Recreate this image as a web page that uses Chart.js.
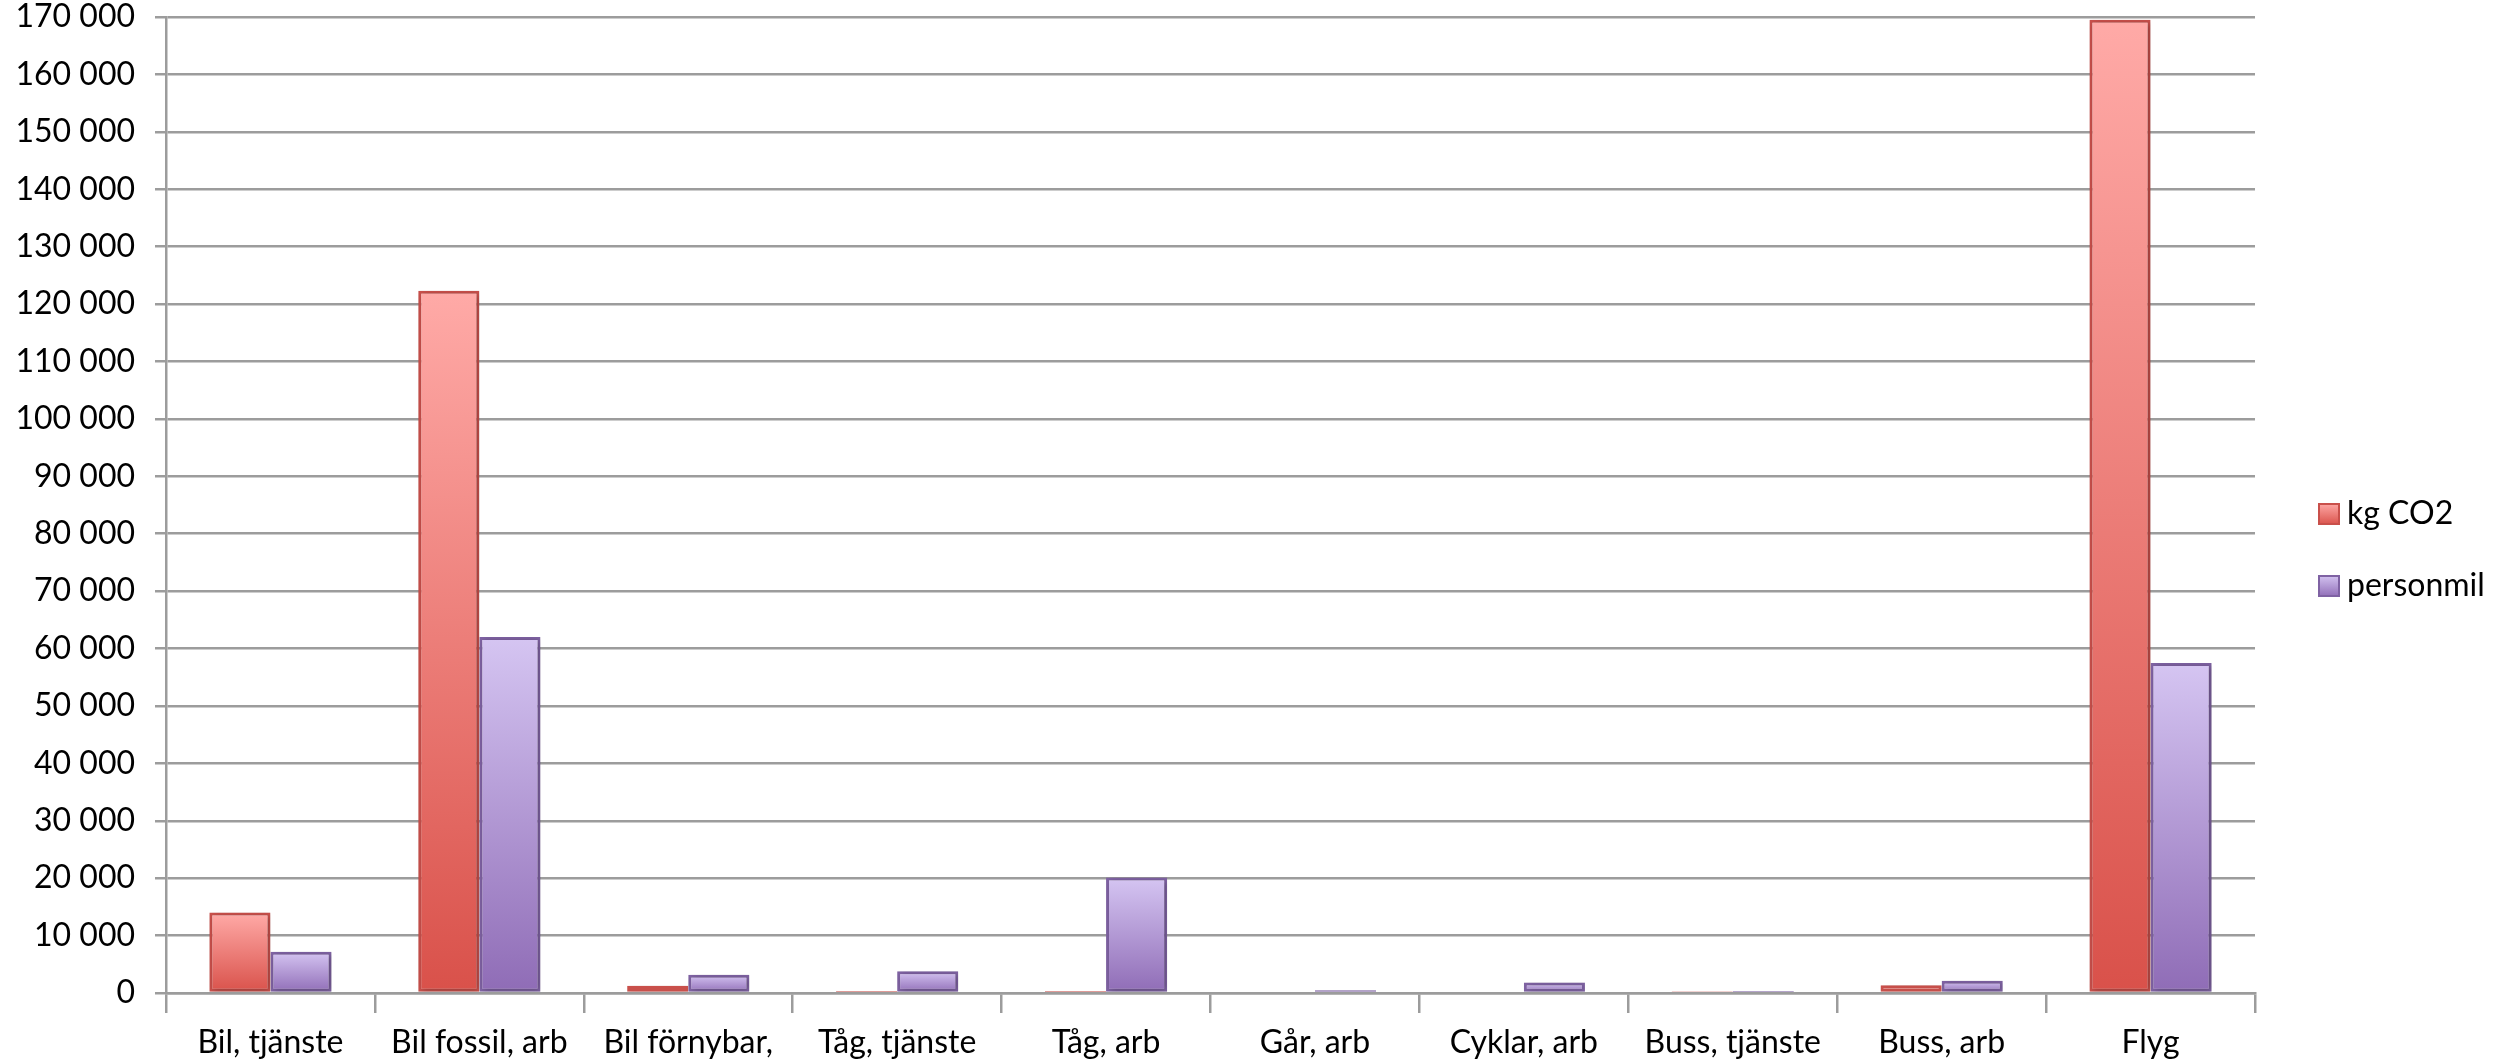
<!DOCTYPE html>
<html lang="sv">
<head>
<meta charset="utf-8">
<title>kg CO2 och personmil per färdsätt</title>
<script src="https://cdn.jsdelivr.net/npm/chart.js@4/dist/chart.umd.min.js"></script>
<style>
	html, body { margin: 0; padding: 0; background: #fff; }
	.co2-chart { position: relative; width: 2504px; height: 1063px; }
</style>
</head>
<body>
<div class="co2-chart"><canvas id="co2-canvas"></canvas></div>
<script>
var categories = ['Bil, tjänste', 'Bil fossil, arb', 'Bil förnybar,', 'Tåg, tjänste', 'Tåg, arb', 'Går, arb', 'Cyklar, arb', 'Buss, tjänste', 'Buss, arb', 'Flyg'];
var seriesNames = ['kg CO2', 'personmil'];
var kgCo2 = [14000, 122300, 1250, 350, 350, 0, 0, 300, 1330, 169500];
var personmil = [7200, 62000, 3200, 3800, 20100, 500, 1850, 350, 2150, 57500];
var yTicks = { min: 0, max: 170000, step: 10000 };

(function () {
	'use strict';

	var styles = [
		{ top: '#ffaaa7', bottom: '#d9514a', border: '#c9504b' },
		{ top: '#d5c5f2', bottom: '#8f6cb6', border: '#7f62a3' }
	];
	var gridColor = '#9c9c9c';
	var fontFamily = 'Lato, "Liberation Sans", sans-serif';
	var fontSize = 32;

	document.addEventListener('DOMContentLoaded', function () {
		initCo2Chart();
	});

	/**
	 * Vertical gradient that spans one bar, light on top and dark at the base
	 */
	function barGradient(chart, style, value) {
		var yScale = chart.scales.y;
		if (!yScale || !chart.chartArea) {
			return style.bottom;
		}
		var top = yScale.getPixelForValue(value),
			base = yScale.getPixelForValue(0);
		if (base - top < 1) {
			return style.bottom;
		}
		var g = chart.ctx.createLinearGradient(0, top, 0, base);
		g.addColorStop(0, style.top);
		g.addColorStop(1, style.bottom);
		return g;
	}

	function formatThousands(value) {
		return String(value).replace(/\B(?=(\d{3})+(?!\d))/g, ' ');
	}

	/**
	 * Soft drop shadow behind the bars, as in the office chart
	 */
	var barShadow = {
		id: 'barShadow',
		beforeDatasetsDraw: function (chart) {
			var ctx = chart.ctx;
			ctx.save();
			ctx.shadowColor = 'rgba(0, 0, 0, 0.28)';
			ctx.shadowBlur = 6;
			ctx.shadowOffsetX = 2;
			ctx.shadowOffsetY = 1;
		},
		afterDatasetsDraw: function (chart) {
			chart.ctx.restore();
		}
	};

	/**
	 * Legend on the right side, boxes filled like the bars
	 */
	var sideLegend = {
		id: 'sideLegend',
		afterDraw: function (chart) {
			var ctx = chart.ctx,
				area = chart.chartArea,
				middle = (area.top + area.bottom) / 2;

			chart.data.datasets.forEach(function (ds, i) {
				var style = styles[i],
					x = area.right + 63,
					cy = middle + 9 + i * 72,
					g = ctx.createLinearGradient(0, cy - 11, 0, cy + 11);

				g.addColorStop(0, style.top);
				g.addColorStop(1, style.bottom);

				ctx.save();
				ctx.fillStyle = g;
				ctx.fillRect(x, cy - 11, 22, 22);
				ctx.strokeStyle = style.border;
				ctx.lineWidth = 2;
				ctx.strokeRect(x + 1, cy - 10, 20, 20);

				ctx.fillStyle = '#000';
				ctx.font = fontSize + 'px ' + fontFamily;
				ctx.textBaseline = 'middle';
				ctx.textAlign = 'left';
				ctx.fillText(ds.label, x + 29, cy);
				ctx.restore();
			});
		}
	};

	/**
	 * Init grouped bar chart
	 */
	function initCo2Chart() {
		var canvas = document.getElementById('co2-canvas'),
			series = [kgCo2, personmil];

		var datasets = series.map(function (values, i) {
			var style = styles[i];
			return {
				label: seriesNames[i],
				data: values,
				backgroundColor: function (context) {
					return barGradient(context.chart, style, context.raw || 0);
				},
				borderColor: style.border,
				borderWidth: 3,
				borderSkipped: false,
				categoryPercentage: 0.585,
				barPercentage: 1.0
			};
		});

		new Chart(canvas, {
			type: 'bar',
			data: {
				labels: categories,
				datasets: datasets
			},
			plugins: [barShadow, sideLegend],
			options: {
				responsive: true,
				maintainAspectRatio: false,
				animation: false,
				devicePixelRatio: 1,
				layout: {
					padding: { top: 17, right: 249, bottom: 0, left: 0 }
				},
				plugins: {
					legend: { display: false },
					tooltip: { enabled: false }
				},
				scales: {
					x: {
						afterFit: function (axis) {
							axis.height = 70;
							axis.paddingLeft = 0;
							axis.paddingRight = 0;
						},
						grid: {
							offset: true,
							drawOnChartArea: false,
							drawTicks: true,
							tickLength: 20,
							tickColor: gridColor,
							lineWidth: 2.5
						},
						border: { color: gridColor, width: 2.5 },
						ticks: {
							color: '#000',
							font: { family: fontFamily, size: fontSize },
							padding: 10,
							maxRotation: 0,
							autoSkip: false
						}
					},
					y: {
						min: yTicks.min,
						max: yTicks.max,
						afterFit: function (axis) {
							axis.width = 166;
							axis.paddingTop = 0;
							axis.paddingBottom = 0;
						},
						grid: {
							color: gridColor,
							lineWidth: 2.5,
							tickLength: 11,
							tickColor: gridColor
						},
						border: { color: gridColor, width: 2.5 },
						ticks: {
							stepSize: yTicks.step,
							color: '#000',
							font: { family: fontFamily, size: fontSize },
							padding: 20,
							callback: function (value) {
								return formatThousands(value);
							}
						}
					}
				}
			}
		});
	}
})();
</script>
</body>
</html>
